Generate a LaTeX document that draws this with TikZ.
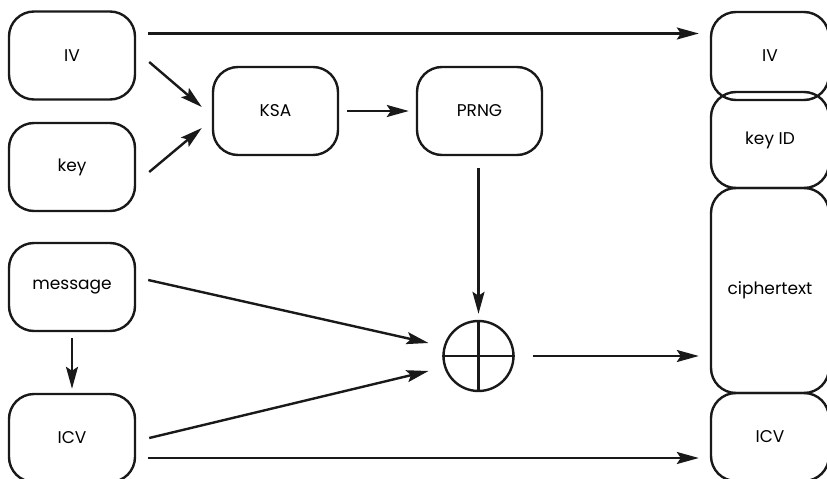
\documentclass[tikz,border=0pt]{standalone}
\usepackage{fontspec}
\setmainfont{Poppins}
\usetikzlibrary{arrows.meta,calc}
\begin{document}
\begin{tikzpicture}[x=1pt,y=-1pt,
  box/.style={draw=black!90, line width=2.4pt, rounded corners=25pt, minimum width=126pt, minimum height=88pt, font=\fontsize{17}{20}\selectfont, inner sep=0pt},
  rbox/.style={box, minimum width=118pt},
  arr/.style={line width=2.4pt, draw=black!90, -{Stealth[length=22pt,width=12pt,inset=4pt]}}]
\useasboundingbox (0,0) rectangle (827,479);
\clip (0,0) rectangle (827,479);
\node[box] (IVl) at (72,55.5) {IV};
\node[box] (key) at (72,167) {key};
\node[box] (msg) at (72,287) {message};
\node[box] (ICVl) at (72,438) {ICV};
\node[box, minimum width=125pt] (KSA) at (275.5,111) {KSA};
\node[box, minimum width=125pt] (PRNG) at (479.5,111) {PRNG};
\node[circle, draw=black!90, line width=2.4pt, minimum size=70pt, inner sep=0pt] (xor) at (478.5,356) {};
\draw[line width=2.4pt, black!90] (xor.north) -- (xor.south) (xor.west) -- (xor.east);
\node[rbox, minimum height=88pt] (IVr) at (770,56) {IV};
\node[rbox, minimum height=96pt] (kid) at (770,140) {key ID};
\node[rbox, minimum height=205pt] (ct) at (770,290.5) {ciphertext};
\node[rbox, minimum height=88pt] (ICVr) at (770,437) {ICV};
\draw[arr, shorten <=12pt, shorten >=11pt] ([yshift=22pt]IVl.east) -- ([yshift=22pt]IVl.east -| IVr.west);
\draw[arr] ($(IVl.east)+(13,6.5)$) -- ($(KSA.west)+(-10,-4)$);
\draw[arr] ($(key.east)+(13,5)$) -- ($(KSA.west)+(-10,17)$);
\draw[arr, shorten <=8pt, shorten >=7pt] (KSA.east) -- (PRNG.west);
\draw[arr, shorten <=12pt, shorten >=6pt] (PRNG.south -| xor.north) -- (xor.north);
\draw[arr] ($(msg.east)+(12,-7)$) -- ($(xor.center)+(-50,-13)$);
\draw[arr] ($(ICVl.east)+(13,0)$) -- ($(xor.center)+(-50,15)$);
\draw[arr, shorten <=18pt, shorten >=11pt] (xor.east) -- (xor.east -| ct.west);
\draw[arr, shorten <=12pt, shorten >=11pt] ([yshift=-20pt]ICVl.east) -- ([yshift=-20pt]ICVl.east -| ICVr.west);
\draw[arr, shorten <=6pt, shorten >=4pt] (msg.south) -- (ICVl.north);
\end{tikzpicture}
\end{document}
